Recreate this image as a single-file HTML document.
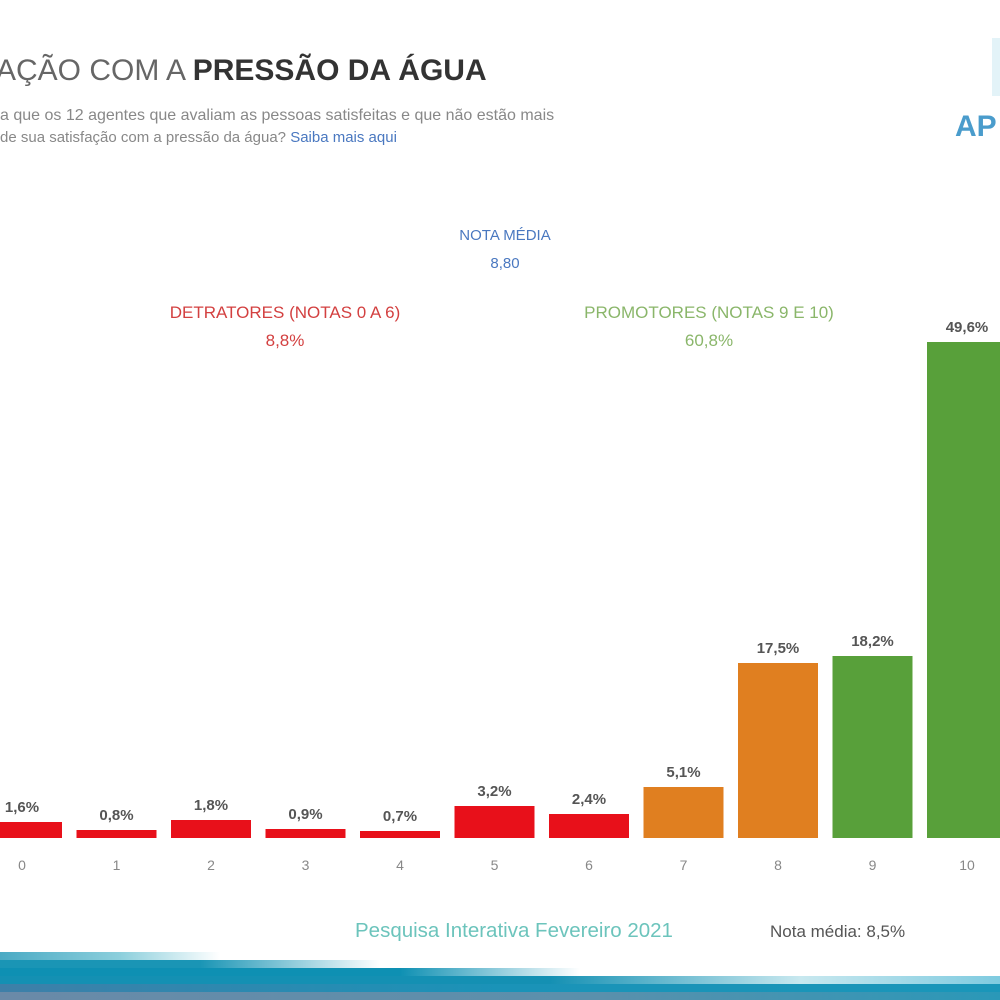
<!DOCTYPE html>
<html><head><meta charset="utf-8">
<style>
body{margin:0;width:1000px;height:1000px;overflow:hidden;background:#fff;font-family:"Liberation Sans",sans-serif;position:relative}
.abs{position:absolute;white-space:nowrap}
</style></head><body>
<div class="abs" style="left:-4px;top:54px;font-size:30px;color:#666;letter-spacing:0px">AÇÃO COM A <b style="color:#333">PRESSÃO DA ÁGUA</b></div>
<div class="abs" style="left:0;top:107px;font-size:16px;color:#888">a que os 12 agentes que avaliam as pessoas satisfeitas e que não estão mais</div>
<div class="abs" style="left:0;top:129px;font-size:15px;color:#888">de sua satisfação com a pressão da água? <span style="color:#4a78c0">Saiba mais aqui</span></div>
<div class="abs" style="left:992px;top:38px;width:8px;height:58px;background:#e3f3f8"></div>
<div class="abs" style="left:955px;top:110px;font-size:30px;font-weight:bold;color:#4a9ccc">AP</div>
<div class="abs" style="left:405px;top:222px;font-size:15px;color:#4a78c0;text-align:center;width:200px;line-height:28px">NOTA MÉDIA<br>8,80</div>
<div class="abs" style="left:135px;top:299px;font-size:17px;color:#d34040;text-align:center;width:300px;line-height:28px">DETRATORES (NOTAS 0 A 6)<br>8,8%</div>
<div class="abs" style="left:559px;top:299px;font-size:17px;color:#8ab66a;text-align:center;width:300px;line-height:28px">PROMOTORES (NOTAS 9 E 10)<br>60,8%</div>
<svg id="chart" width="1000" height="1000" style="position:absolute;left:0;top:0"></svg>
<div class="abs" style="left:355px;top:919px;font-size:20.5px;color:#6cc4bc">Pesquisa Interativa Fevereiro 2021</div>
<div class="abs" style="left:770px;top:922px;font-size:17px;color:#555">Nota média: 8,5%</div>
<div>
<div class="abs" style="left:0;top:952px;width:1000px;height:8px;background:linear-gradient(90deg,#4aaac4 0%,#8ccfdc 12%,#fff 22%)"></div>
<div class="abs" style="left:0;top:960px;width:1000px;height:8px;background:linear-gradient(90deg,#1a95b5 0%,#1a95b5 20%,#fff 38%)"></div>
<div class="abs" style="left:0;top:968px;width:1000px;height:8px;background:linear-gradient(90deg,#0e90b3 0%,#0e90b3 40%,#fff 58%)"></div>
<div class="abs" style="left:0;top:976px;width:1000px;height:8px;background:linear-gradient(90deg,#1490b3 0%,#1490b3 55%,#c8e8ef 80%,#7fcbe0 100%)"></div>
<div class="abs" style="left:0;top:984px;width:1000px;height:8px;background:linear-gradient(90deg,#3e7fa8 0%,#1a93b8 50%,#1a96b9 100%)"></div>
<div class="abs" style="left:0;top:992px;width:1000px;height:8px;background:linear-gradient(90deg,#6a8aa8 0%,#5a90ac 60%,#2a98b8 100%)"></div>
</div>
<script>
const categories=["0","1","2","3","4","5","6","7","8","9","10"];
const values=[1.6,0.8,1.8,0.9,0.7,3.2,2.4,5.1,17.5,18.2,49.6];
const labels=["1,6%","0,8%","1,8%","0,9%","0,7%","3,2%","2,4%","5,1%","17,5%","18,2%","49,6%"];
const groups=["d","d","d","d","d","d","d","n","n","p","p"];
const colors={d:"#e8101a",n:"#e07f20",p:"#58a03a"};
const svg=document.getElementById('chart');
const NS="http://www.w3.org/2000/svg";
const base=838,pxPer=10,x0=22,step=94.5,bw=80;
const xs=i=>x0+i*step;
const ys=v=>base-v*pxPer;
categories.forEach((c,i)=>{
  const v=values[i],cx=xs(i),top=ys(v);
  const r=document.createElementNS(NS,'rect');
  r.setAttribute('x',cx-bw/2);r.setAttribute('y',top);r.setAttribute('width',bw);r.setAttribute('height',base-top);
  r.setAttribute('fill',colors[groups[i]]);
  
  
  svg.appendChild(r);
  const t=document.createElementNS(NS,'text');
  t.setAttribute('x',cx);t.setAttribute('y',top-10);t.setAttribute('text-anchor','middle');
  t.setAttribute('font-size','15');t.setAttribute('font-weight','bold');t.setAttribute('fill','#555');
  t.setAttribute('font-family','Liberation Sans, sans-serif');
  t.textContent=labels[i];
  
  
  svg.appendChild(t);
  const xl=document.createElementNS(NS,'text');
  xl.setAttribute('x',cx);xl.setAttribute('y',870);xl.setAttribute('text-anchor','middle');
  xl.setAttribute('font-size','14');xl.setAttribute('fill','#888');
  xl.setAttribute('font-family','Liberation Sans, sans-serif');
  xl.textContent=c;
  
  
  svg.appendChild(xl);
});
</script>
</body></html>
